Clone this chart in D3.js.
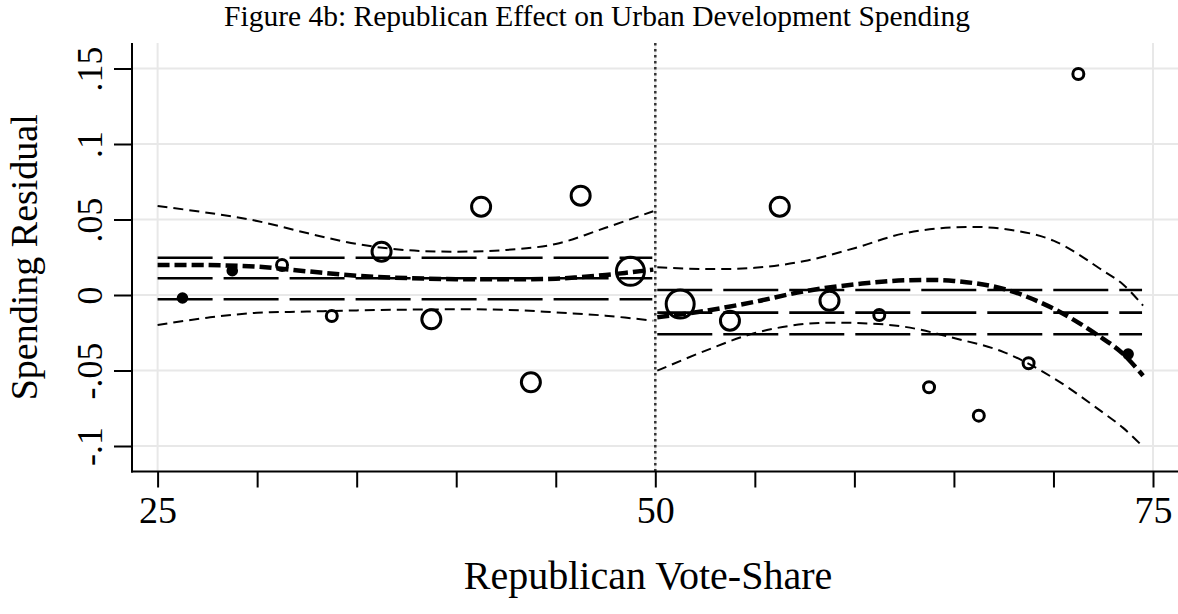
<!DOCTYPE html>
<html>
<head>
<meta charset="utf-8">
<script src="https://cdn.jsdelivr.net/npm/d3@7"></script>
<style>
  body { margin: 0; background: #fff; }
  svg { display: block; }
  text { font-family: "Liberation Serif", "Times New Roman", serif; fill: #000; }
</style>
</head>
<body>
<div id="chart"></div>
<script>
// binned scatter (bin mid-points, mean residual, obs count)
var binX = [26.25, 28.75, 31.25, 33.75, 36.25, 38.75, 41.25, 43.75, 46.25, 48.75,
            51.25, 53.75, 56.25, 58.75, 61.25, 63.75, 66.25, 68.75, 71.25, 73.75];
var binY = [-0.002, 0.0161, 0.0199, -0.0139, 0.0287, -0.0161, 0.0585, -0.0578, 0.0658, 0.0157,
            -0.006, -0.017, 0.0585, -0.0038, -0.0132, -0.0611, -0.0799, -0.0452, 0.1464, -0.0391];
var binN = [1, 1, 2, 2, 6, 6, 6, 6, 6, 13,
            13, 6, 6, 6, 2, 2, 2, 2, 2, 1];

// polynomial fit and its band, left of the cut
var leftX   = [25, 27.5, 30, 32.5, 35, 37.5, 40, 42.5, 45, 47.5, 49.9];
var leftFit = [0.0199, 0.0198, 0.0188, 0.0157, 0.0128, 0.0112, 0.0105, 0.0104, 0.0108, 0.0133, 0.0168];
var leftHi  = [0.0589, 0.0545, 0.049, 0.041, 0.0338, 0.0297, 0.0287, 0.0298, 0.0338, 0.0445, 0.0555];
var leftLo  = [-0.0199, -0.015, -0.0118, -0.011, -0.0102, -0.0097, -0.0095, -0.0098, -0.0115, -0.0137, -0.017];

// right of the cut
var rightX   = [50.1, 52.5, 55, 57.5, 60, 62.5, 65, 67.5, 70, 72.5, 73.5, 74.5];
var rightFit = [-0.0148, -0.0105, -0.0045, 0.0025, 0.007, 0.0097, 0.0093, 0.004, -0.009, -0.029, -0.039, -0.0535];
var rightHi  = [0.0183, 0.0172, 0.018, 0.0225, 0.031, 0.0408, 0.0448, 0.0438, 0.036, 0.016, 0.007, -0.007];
var rightLo  = [-0.0501, -0.037, -0.0252, -0.0192, -0.0185, -0.021, -0.0285, -0.0378, -0.055, -0.078, -0.088, -0.1005];

// mean and +/- band (flat lines)
var leftMean  = [0.0247, 0.0111, -0.0028];
var rightMean = [0.0033, -0.0117, -0.026];
var leftSpan  = [25, 49.85];
var rightSpan = [50.1, 74.45];

var cutoff = 50;
var xTicks = [25, 30, 35, 40, 45, 50, 55, 60, 65, 70, 75];
var xTickLabels = ["25", "", "", "", "", "50", "", "", "", "", "75"];
var yTicks = [-0.1, -0.05, 0, 0.05, 0.1, 0.15];
var yTickLabels = ["-.1", "-.05", "0", ".05", ".1", ".15"];
var xGrid = [25, 50, 75];

var title = "Figure 4b: Republican Effect on Urban Development Spending";
var xTitle = "Republican Vote-Share";
var yTitle = "Spending Residual";

(function() {
  var width = 1178, height = 614;
  var plotLeft = 132, plotRight = 1178, plotTop = 43, plotBottom = 471.5;

  var x = d3.scaleLinear().domain([25, 75]).range([157.6, 1153]);
  var y = d3.scaleLinear().domain([-0.1, 0.15]).range([446, 68.5]);
  var r = d3.scaleSqrt().domain([0, 13]).range([0, 14]);

  var svg = d3.select('#chart').append('svg')
    .attr('width', width)
    .attr('height', height);

  // grid
  svg.append('g').selectAll('line').data(yTicks).enter().append('line')
    .attr('x1', plotLeft).attr('x2', plotRight)
    .attr('y1', function(d) { return y(d); })
    .attr('y2', function(d) { return y(d); })
    .attr('stroke', '#e8e8e8').attr('stroke-width', 2);
  svg.append('g').selectAll('line').data(xGrid).enter().append('line')
    .attr('x1', function(d) { return x(d); })
    .attr('x2', function(d) { return x(d); })
    .attr('y1', plotTop).attr('y2', plotBottom)
    .attr('stroke', '#e8e8e8').attr('stroke-width', 2);

  // cutoff
  svg.append('line')
    .attr('x1', x(cutoff)).attr('x2', x(cutoff))
    .attr('y1', plotTop).attr('y2', plotBottom)
    .attr('stroke', '#333').attr('stroke-width', 2.5)
    .attr('stroke-dasharray', '2.5,3.5');

  // scatter
  var pts = binX.map(function(d, i) { return {x: d, y: binY[i], n: binN[i]}; });
  svg.append('g').selectAll('circle').data(pts).enter().append('circle')
    .attr('cx', function(d) { return x(d.x); })
    .attr('cy', function(d) { return y(d.y); })
    .attr('r', function(d) { return d.n == 1 ? 4.3 : r(d.n); })
    .attr('fill', function(d) { return d.n == 1 ? '#000' : 'none'; })
    .attr('stroke', '#000')
    .attr('stroke-width', 3);

  // flat mean lines
  var flat = function(levels, span) {
    svg.append('g').selectAll('line').data(levels).enter().append('line')
      .attr('x1', x(span[0])).attr('x2', x(span[1]))
      .attr('y1', function(d) { return y(d); })
      .attr('y2', function(d) { return y(d); })
      .attr('stroke', '#000').attr('stroke-width', 2.6)
      .attr('stroke-dasharray', '55,11');
  };
  flat(leftMean, leftSpan);
  flat(rightMean, rightSpan);

  var line = d3.line()
    .x(function(d) { return x(d[0]); })
    .y(function(d) { return y(d[1]); })
    .curve(d3.curveCatmullRom);

  var curve = function(xs, ys, w, dash) {
    svg.append('path')
      .datum(xs.map(function(d, i) { return [d, ys[i]]; }))
      .attr('d', line)
      .attr('fill', 'none')
      .attr('stroke', '#000')
      .attr('stroke-width', w)
      .attr('stroke-dasharray', dash);
  };
  curve(leftX, leftHi, 2, '10,6');
  curve(leftX, leftLo, 2, '10,6');
  curve(rightX, rightHi, 2, '10,6');
  curve(rightX, rightLo, 2, '10,6');
  curve(leftX, leftFit, 4.5, '12,5');
  curve(rightX, rightFit, 4.5, '12,5');

  // axes
  var xAxis = svg.append('g')
    .attr('transform', 'translate(0,' + plotBottom + ')')
    .call(d3.axisBottom(x).tickValues(xTicks).tickSize(16).tickPadding(9)
      .tickFormat(function(d, i) { return xTickLabels[i]; }));
  xAxis.select('.domain').remove();
  xAxis.selectAll('line').attr('stroke', '#000').attr('stroke-width', 2);
  xAxis.selectAll('text').attr('font-size', 38).attr('fill', '#000');
  svg.append('line')
    .attr('x1', plotLeft - 1).attr('x2', plotRight)
    .attr('y1', plotBottom).attr('y2', plotBottom)
    .attr('stroke', '#000').attr('stroke-width', 2);

  var yAxis = svg.append('g')
    .attr('transform', 'translate(' + plotLeft + ',0)')
    .call(d3.axisLeft(y).tickValues(yTicks).tickSize(18)
      .tickFormat(function(d, i) { return yTickLabels[i]; }));
  yAxis.select('.domain').remove();
  yAxis.selectAll('line').attr('stroke', '#000').attr('stroke-width', 2);
  yAxis.selectAll('text')
    .attr('font-size', 36)
    .attr('fill', '#000')
    .attr('x', 0).attr('dy', 0)
    .attr('text-anchor', 'middle')
    .attr('transform', 'translate(-30,0) rotate(-90)');
  svg.append('line')
    .attr('x1', plotLeft).attr('x2', plotLeft)
    .attr('y1', plotTop).attr('y2', plotBottom + 1)
    .attr('stroke', '#000').attr('stroke-width', 2);

  // titles
  svg.append('text')
    .attr('x', 597).attr('y', 26)
    .attr('text-anchor', 'middle')
    .attr('font-size', 29.5)
    .text(title);
  svg.append('text')
    .attr('x', 648).attr('y', 589)
    .attr('text-anchor', 'middle')
    .attr('font-size', 40)
    .text(xTitle);
  svg.append('text')
    .attr('transform', 'translate(37,' + ((plotTop + plotBottom) / 2) + ') rotate(-90)')
    .attr('text-anchor', 'middle')
    .attr('font-size', 38)
    .text(yTitle);
})();
</script>
</body>
</html>
